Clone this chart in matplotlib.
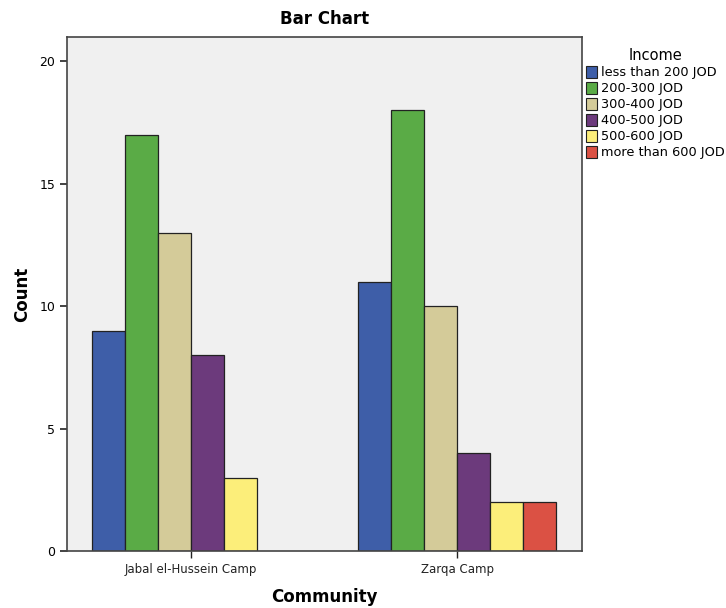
import numpy as np
import matplotlib
matplotlib.use("Agg")
import matplotlib.pyplot as plt
from matplotlib.patches import Patch

# 数据
communities = ["Jabal el-Hussein Camp", "Zarqa Camp"]
income_groups = ["less than 200 JOD", "200-300 JOD", "300-400 JOD",
                 "400-500 JOD", "500-600 JOD", "more than 600 JOD"]
less_200 = [9, 11]
r200_300 = [17, 18]
r300_400 = [13, 10]
r400_500 = [8, 4]
r500_600 = [3, 2]
more_600 = [0, 2]
colors = ["#3e5ea8", "#5aab46", "#d4cb99", "#6c3a7c", "#fcee7a", "#db5144"]

series = [less_200, r200_300, r300_400, r400_500, r500_600, more_600]

plt.rcParams['font.family'] = ['DejaVu Sans']

fig = plt.figure(figsize=(7.26, 6.08), dpi=100)
ax = fig.add_axes([0.0923, 0.0938, 0.7094, 0.8454])
ax.set_facecolor("#f0f0f0")

x = np.arange(len(communities))
w = 0.124
n = len(series)
for i, (vals, c) in enumerate(zip(series, colors)):
    off = (i - (n - 1) / 2) * w
    for xi, v in zip(x, vals):
        if v > 0:
            ax.bar(xi + off, v, width=w, color=c, edgecolor="#222222", linewidth=0.9)

ax.set_xlim(-0.466, 1.47)
ax.set_ylim(0, 21)
ax.set_yticks([0, 5, 10, 15, 20])
ax.set_xticks(x)
ax.set_xticklabels(communities, fontsize=8.5, color="#222222")
ax.tick_params(axis="y", labelsize=9, length=5, width=1.2, color="#222222")
ax.tick_params(axis="x", length=5, width=1, color="#222222")
for s in ax.spines.values():
    s.set_color("#444444")
    s.set_linewidth(1.2)

ax.set_title("Bar Chart", fontsize=12, fontweight="bold", pad=9)
ax.set_ylabel("Count", fontsize=12, fontweight="bold", labelpad=6)
ax.set_xlabel("Community", fontsize=12, fontweight="bold", labelpad=9)

handles = [Patch(facecolor=c, edgecolor="#222222", linewidth=0.8) for c in colors]
leg = fig.legend(handles, income_groups, title="Income", loc="upper left",
                 bbox_to_anchor=(0.803, 0.925), frameon=False, fontsize=9.3,
                 title_fontsize=10.5, handlelength=0.85, handleheight=1.0,
                 handletextpad=0.35, labelspacing=0.22, borderaxespad=0,
                 borderpad=0.2)

fig.savefig("out.png", dpi=100)
